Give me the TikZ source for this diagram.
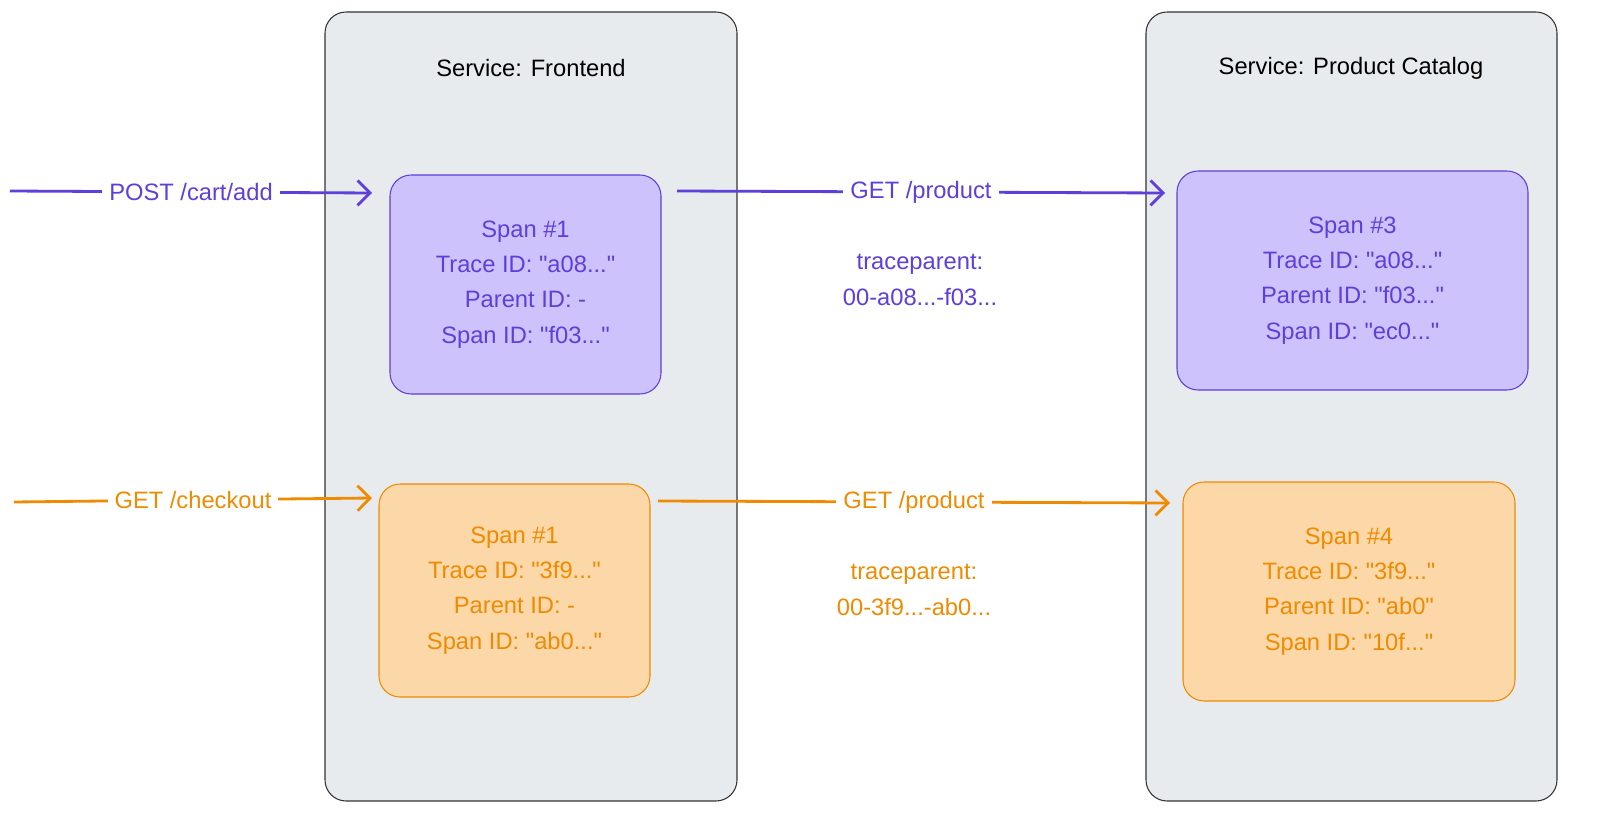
\documentclass[tikz,border=0pt]{standalone}
\usepackage{fontspec}
\setmainfont{Liberation Sans}[Ligatures=TeXOff]
\usetikzlibrary{arrows.meta}
\definecolor{pur}{HTML}{5E3FD9}
\definecolor{purfill}{HTML}{CEC2FC}
\definecolor{org}{HTML}{EF8B00}
\definecolor{orgfill}{HTML}{FCD7A8}
\definecolor{svc}{HTML}{E8EBEE}
\tikzset{
  svcbox/.style={draw=black!80,fill=svc,rounded corners=12pt,line width=0.6pt},
  span/.style={rounded corners=12pt,line width=0.6pt,align=center,font=\fontsize{13.5}{20}\selectfont},
  pspan/.style={span,draw=pur,fill=purfill,text=pur},
  ospan/.style={span,draw=org,fill=orgfill,text=org},
  lbl/.style={font=\fontsize{13.5}{20}\selectfont,fill=white,inner sep=4pt,align=center},
  parr/.style={draw=pur,line width=1.6pt,-{Straight Barb[length=2.5mm,width=5mm]}},
  oarr/.style={draw=org,line width=1.6pt,-{Straight Barb[length=2.5mm,width=5mm]}},
}
\begin{document}
\begin{tikzpicture}[x=0.02cm,y=-0.02cm]
\fill[white] (0,0) rectangle (1600,828);
\draw[svcbox] (325,12) rectangle (737,801);
\draw[svcbox] (1146,12) rectangle (1557,801);
\node[font=\fontsize{13.5}{20}\selectfont] (t1) at (531,68) {Service: Frontend};
\node[font=\fontsize{13.5}{20}\selectfont] (t2) at (1351,68) {Service: Product Catalog};
\node[pspan,minimum width=271*0.02cm,minimum height=219*0.02cm] (s1) at (525.5,284.5) {Span \#1\\Trace ID: "a08..."\\Parent ID: -\\Span ID: "f03..."};
\node[pspan,minimum width=351*0.02cm,minimum height=219*0.02cm] (s3) at (1352.5,280.5) {Span \#3\\Trace ID: "a08..."\\Parent ID: "f03..."\\Span ID: "ec0..."};
\node[ospan,minimum width=271*0.02cm,minimum height=213*0.02cm] (o1) at (514.5,590.5) {Span \#1\\Trace ID: "3f9..."\\Parent ID: -\\Span ID: "ab0..."};
\node[ospan,minimum width=332*0.02cm,minimum height=219*0.02cm] (s4) at (1349,591.5) {Span \#4\\Trace ID: "3f9..."\\Parent ID: "ab0"\\Span ID: "10f..."};
\coordinate (a0) at (10,191);
\coordinate (a1) at (372,193);
\coordinate (b0) at (677,191);
\coordinate (b1) at (1165,193);
\coordinate (c0) at (14,502);
\coordinate (c1) at (372,498);
\coordinate (d0) at (658,501);
\coordinate (d1) at (1170,503);
\draw[parr] (a0) -- node[lbl,text=pur,pos=0.5] {POST /cart/add} (a1);
\draw[parr] (b0) -- node[lbl,text=pur,pos=0.5] {GET /product} (b1);
\draw[oarr] (c0) -- node[lbl,text=org,pos=0.5] {GET /checkout} (c1);
\draw[oarr] (d0) -- node[lbl,text=org,pos=0.5] {GET /product} (d1);
\node[lbl,text=pur] (tp1) at (920,280) {traceparent:\\00-a08...-f03...};
\node[lbl,text=org] (tp2) at (914,590) {traceparent:\\00-3f9...-ab0...};
\pgfresetboundingbox
\useasboundingbox (0,0) rectangle (1600,828);
\end{tikzpicture}
\end{document}
